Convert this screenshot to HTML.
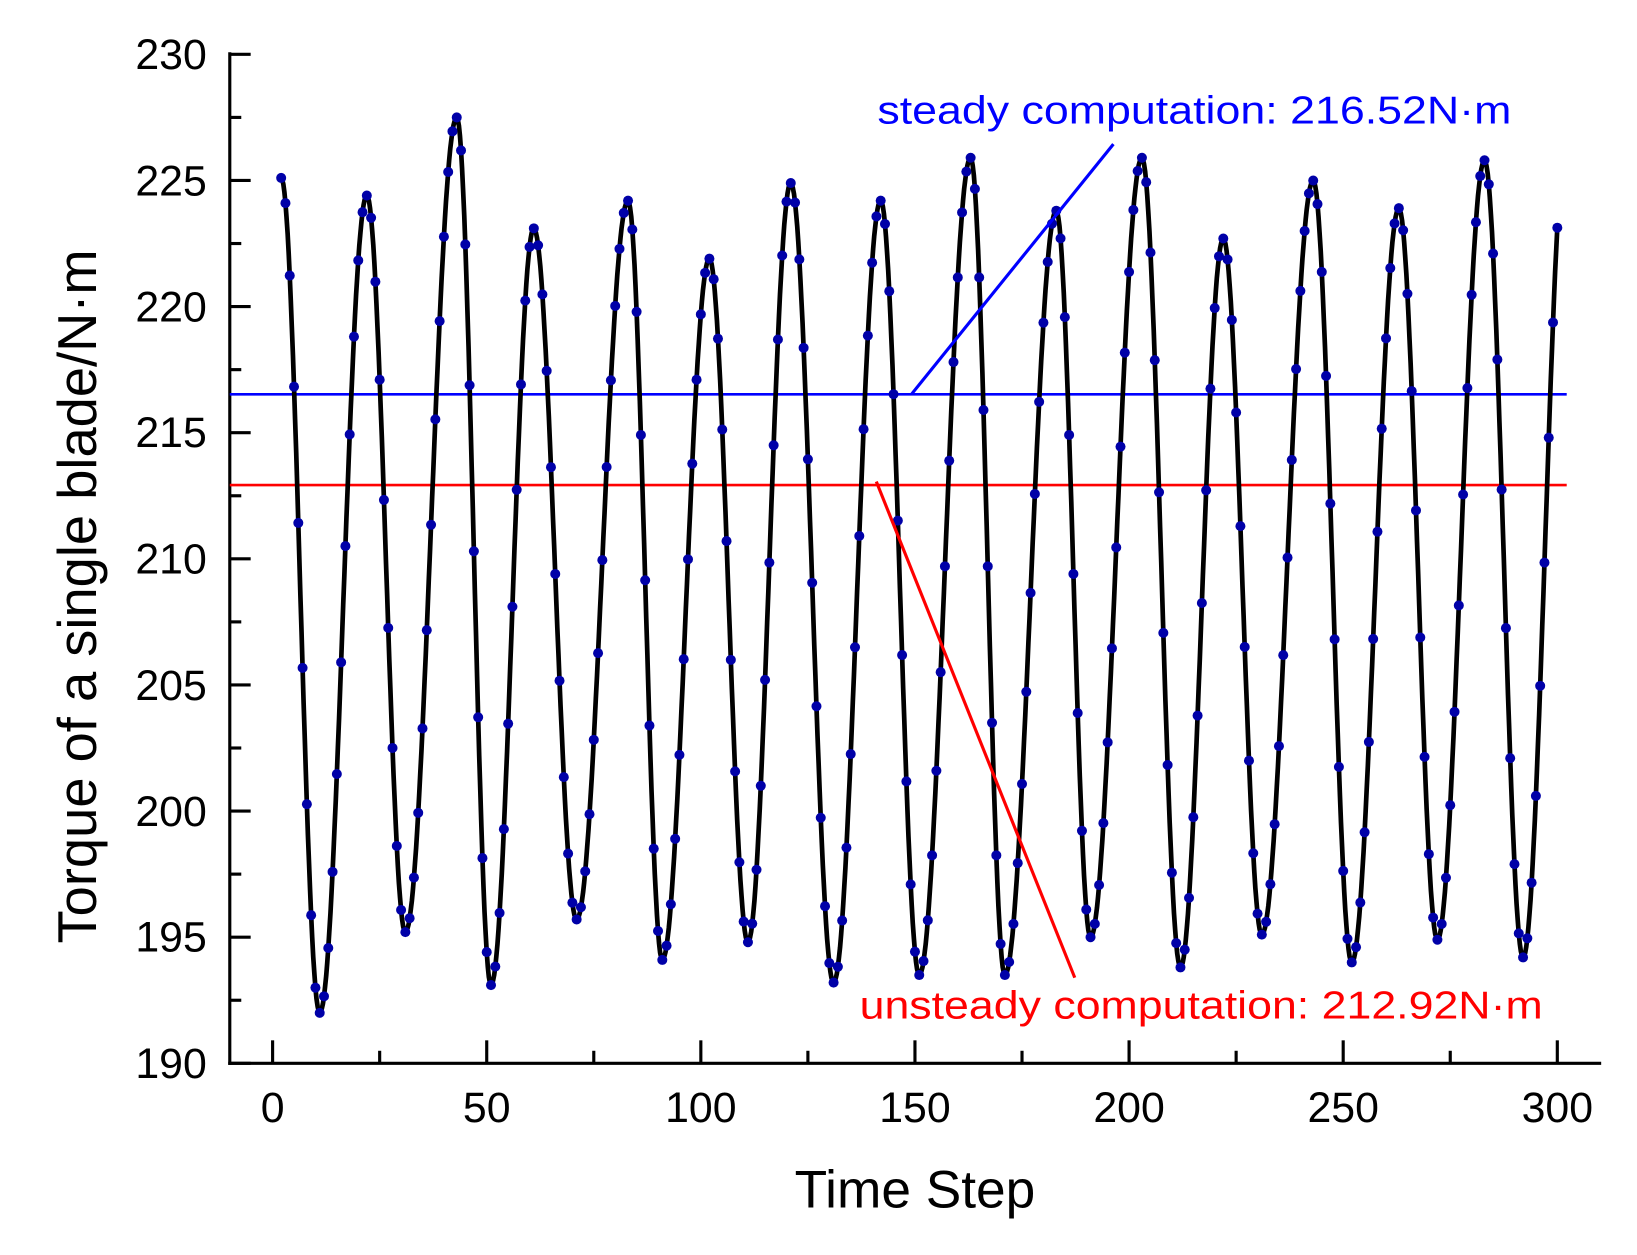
<!DOCTYPE html>
<html><head><meta charset="utf-8"><style>html,body{margin:0;padding:0;background:#fff}svg{display:block}</style></head>
<body>
<svg id="s" xmlns="http://www.w3.org/2000/svg" width="1637" height="1255" viewBox="0 0 1567.3 1201.5" font-family="Liberation Sans, Arial, sans-serif">
<rect width="1567.3" height="1201.5" fill="#fff"/>
<g id="ticks" stroke="#000" stroke-width="3"></g>
<line x1="220" y1="50" x2="220" y2="1019.5" stroke="#000" stroke-width="3"/>
<line x1="218.5" y1="1018" x2="1533" y2="1018" stroke="#000" stroke-width="3"/>
<g font-size="41" text-anchor="end" fill="#000">
<text x="198" y="66">230</text><text x="198" y="187">225</text><text x="198" y="308">220</text><text x="198" y="428">215</text><text x="198" y="549">210</text><text x="198" y="670">205</text><text x="198" y="791">200</text><text x="198" y="911">195</text><text x="198" y="1032">190</text>
</g>
<g font-size="41" text-anchor="middle" fill="#000">
<text x="261" y="1074">0</text><text x="466" y="1074">50</text><text x="671" y="1074">100</text><text x="876" y="1074">150</text><text x="1081" y="1074">200</text><text x="1286" y="1074">250</text><text x="1491" y="1074">300</text>
</g>
<text x="876" y="1156" font-size="51" text-anchor="middle">Time Step</text>
<text transform="translate(92,571) rotate(-90)" font-size="52" text-anchor="middle">Torque of a single blade/N·m</text>
<line x1="220" y1="377.5" x2="1500" y2="377.5" stroke="#0000ff" stroke-width="2.5"/>
<line x1="220" y1="464.4" x2="1500" y2="464.4" stroke="#ff0000" stroke-width="2.5"/>
<path id="curve" fill="none" stroke="#000" stroke-width="4.5" stroke-linejoin="round"/>
<g id="dots" fill="#0000a8"></g>
<line x1="873" y1="377" x2="1066" y2="138" stroke="#0000ff" stroke-width="3"/>
<line x1="839" y1="461" x2="1029" y2="936" stroke="#ff0000" stroke-width="3"/>
<text x="840" y="118" font-size="37" fill="#0000ff" textLength="607" lengthAdjust="spacingAndGlyphs">steady computation: 216.52N·m</text>
<text x="823" y="975" font-size="37" fill="#ff0000" textLength="654" lengthAdjust="spacingAndGlyphs">unsteady computation: 212.92N·m</text>
</svg>
<script>
var X=function(t){return 261+t*4.1},Y=function(v){return 52+(230-v)*24.15};
var tk=document.getElementById('ticks'),h='';
for(var v=190;v<=230;v+=2.5){var L=(v%5==0)?20:11;h+='<line x1="220" y1="'+Y(v)+'" x2="'+(220+L)+'" y2="'+Y(v)+'"/>';}
for(var t=0;t<=300;t+=25){var L=(t%50==0)?22:12;h+='<line x1="'+X(t)+'" y1="1018" x2="'+X(t)+'" y2="'+(1018-L)+'"/>';}
tk.innerHTML=h;
var K=[[2,225.1],[11,192],[22,224.4],[31,195.2],[43,227.5],[51,193.1],[61,223.1],[71,195.7],[83,224.2],[91,194.1],[102,221.9],[111,194.8],[121,224.9],[131,193.2],[142,224.2],[151,193.5],[163,225.9],[171,193.5],[183,223.8],[191,195.0],[203,225.9],[212,193.8],[222,222.7],[231,195.1],[243,225.0],[252,194.0],[263,223.9],[272,194.9],[283,225.8],[292,194.2],[302.3,227]];
function f(t){for(var i=0;i<K.length-1;i++){var a=K[i],b=K[i+1];if(t>=a[0]&&t<=b[0]){var u=(t-a[0])/(b[0]-a[0]);return a[1]+(b[1]-a[1])*(1-Math.cos(Math.PI*u))/2;}}return K[K.length-1][1];}
var d='',dots='';
for(var t=2;t<=300;t+=0.25){d+=(t==2?'M':'L')+X(t).toFixed(1)+' '+Y(f(t)).toFixed(1);}
for(var t=2;t<=300;t++){dots+='<circle cx="'+X(t).toFixed(1)+'" cy="'+Y(f(t)).toFixed(1)+'" r="4.8"/>';}
document.getElementById('curve').setAttribute('d',d);
document.getElementById('dots').innerHTML=dots;
</script>
</body></html>
